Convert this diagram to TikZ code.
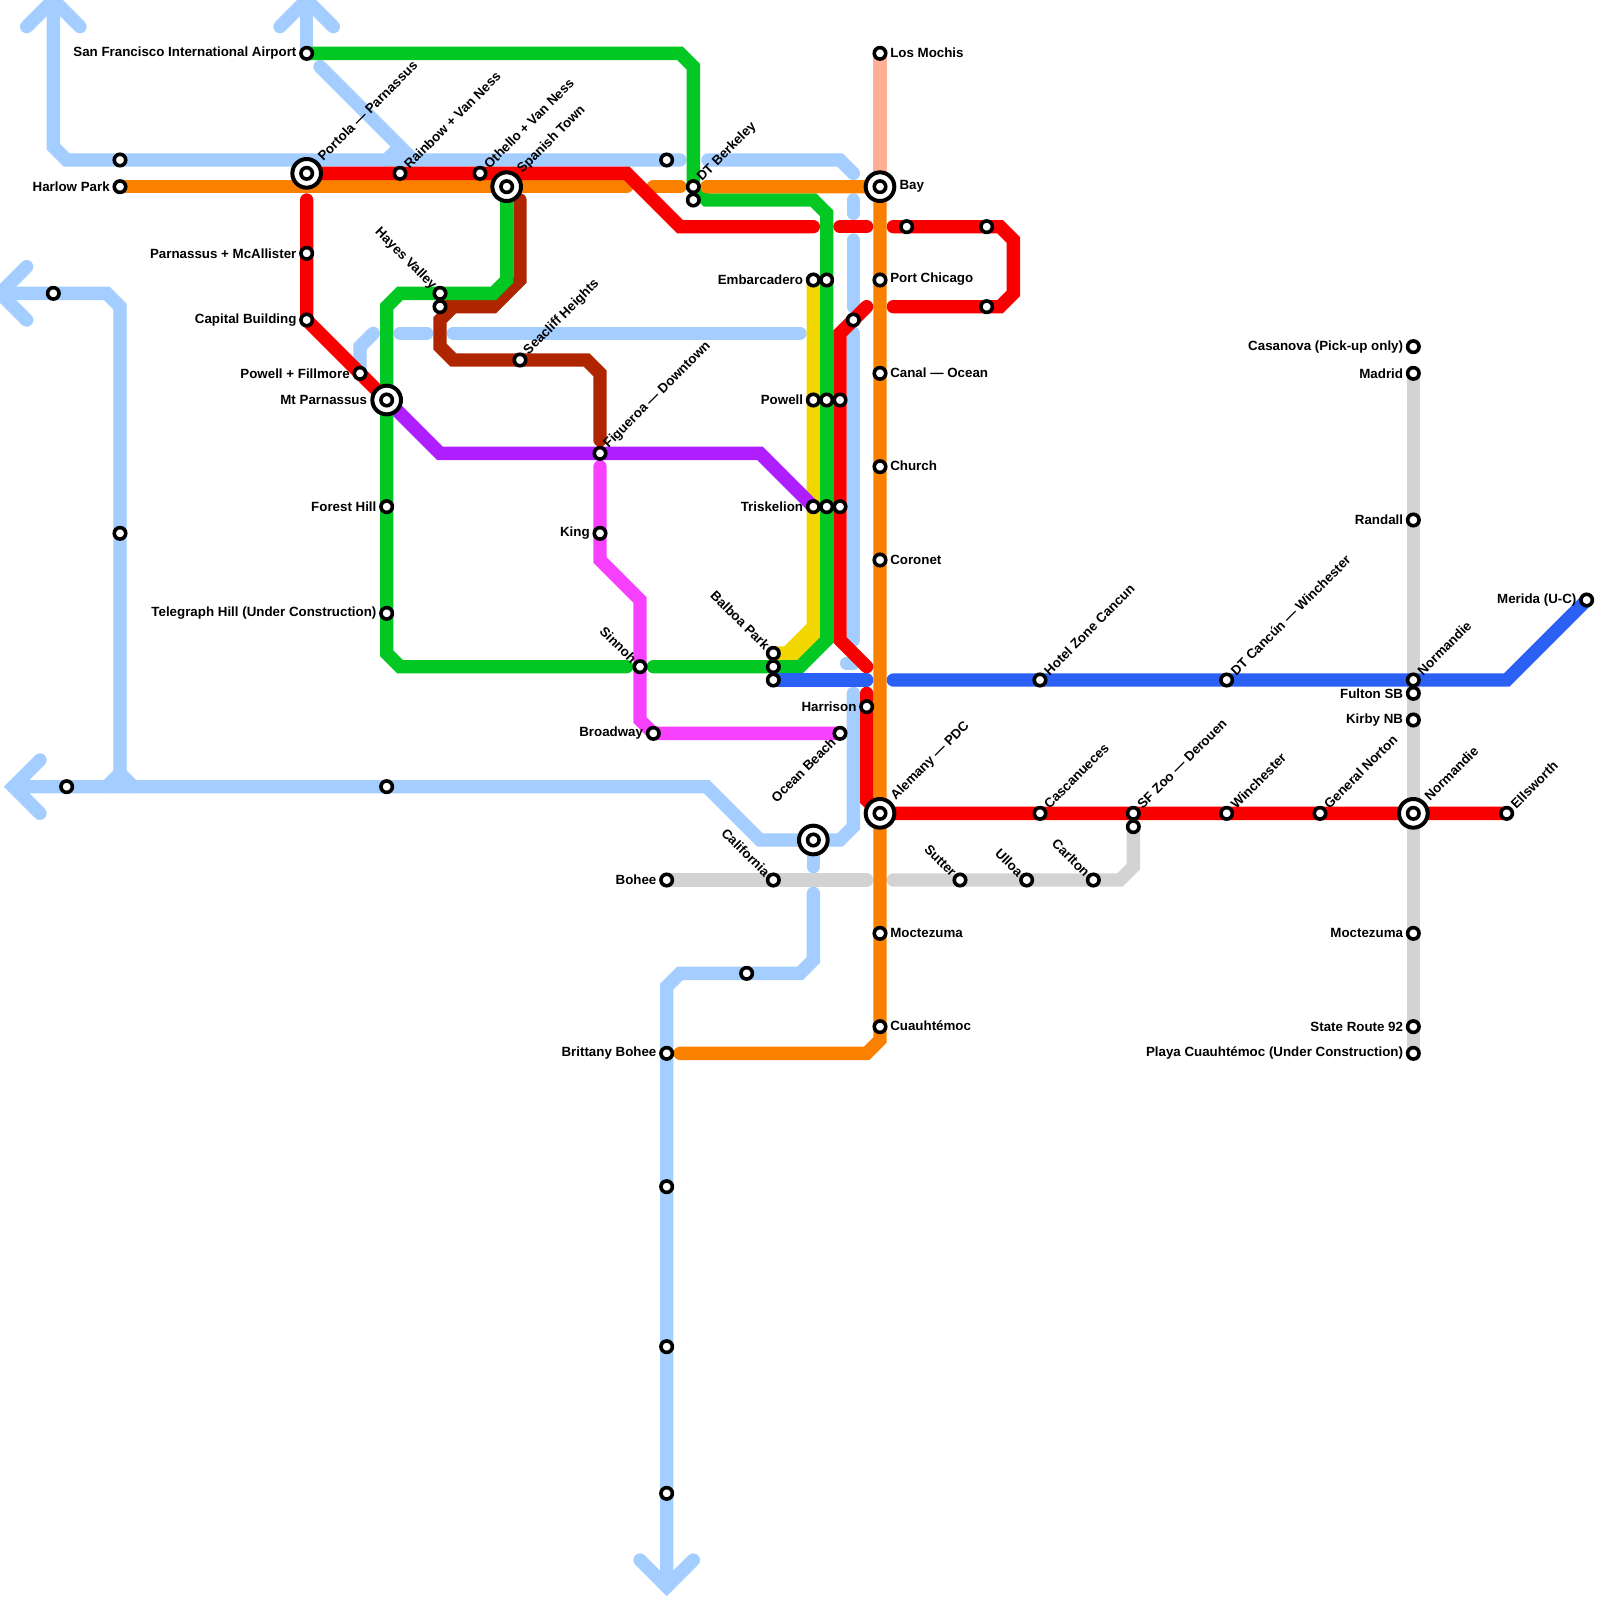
\documentclass[tikz,border=0pt]{standalone}
\usepackage{fontspec}
\setmainfont{Liberation Sans}
\usepackage{xcolor}
\usepackage{tikz}
\usetikzlibrary{calc}
\definecolor{skyline}{HTML}{A3CEFF}
\definecolor{redline}{HTML}{F80000}
\definecolor{orangeline}{HTML}{FA8100}
\definecolor{greenline}{HTML}{03C823}
\definecolor{purpleline}{HTML}{AE1EFF}
\definecolor{pinkline}{HTML}{F840FF}
\definecolor{yellowline}{HTML}{F2D600}
\definecolor{brownline}{HTML}{AE2500}
\definecolor{blueline}{HTML}{2B60F5}
\definecolor{greyline}{HTML}{D3D3D3}
\definecolor{salmonline}{HTML}{FFAF94}
\pgfdeclarelayer{lines}
\pgfsetlayers{lines,main}

\begin{document}
\begin{tikzpicture}[
	x=10pt, y=-10pt,
	ln/.style={line width=10pt, line cap=round, miter limit=4},
	stn/.style={circle, draw=black, fill=white, line width=2.7pt, minimum size=8.6pt, inner sep=0pt, outer sep=0pt},
	hub/.style={circle, draw=black, fill=white, line width=3pt, minimum size=21.5pt, inner sep=0pt, outer sep=0pt},
	lab/.style={font=\bfseries\fontsize{10}{12}\selectfont, inner sep=0pt},
	tl/.style={lab, anchor=east, xshift=-7.5pt},
	tr/.style={lab, anchor=west, xshift=7.5pt, yshift=0.4pt},
	tu/.style={lab, rotate=45, anchor=west, xshift=7pt, yshift=0.5pt},
	tb/.style={lab, rotate=45, anchor=west, xshift=15pt, yshift=1pt},
	td/.style={lab, rotate=-45, anchor=east, xshift=-6pt},
	te/.style={lab, rotate=45, anchor=east, xshift=-7pt}
	]
	\useasboundingbox (0,0) rectangle (120,120);
	\clip (0,0) rectangle (120,120);
	% hubs
	\foreach \id/\x/\y in {portola/23/13, spanish/38/14, mtparn/29/30, bay/66/14, alemany/66/61, oceanhub/61/63, normhub/106/61}{
		\node[hub] (\id) at (\x,\y) {};
		\node[stn] (\id-in) at (\x,\y) {};
	}
	% stations without text
	\foreach \id/\x/\y in {a1/9/12, a2/4/22, a3/5/59, a4/9/40, a5/29/59, a6/50/12, a7/52/15, a8/68/17, a9/74/17, a10/74/23, a11/64/24, a12/62/21, a13/62/30, a14/63/30, a15/62/38, a16/63/38, a17/58/50, a18/58/51, a19/56/73, a20/50/89, a21/50/101, a22/50/112, a23/85/62, a24/33/23}{
		\node[stn] (\id) at (\x,\y) {};
	}
	% text to the left
	\foreach \id/\x/\y/\lab in {sfo/23/4/San Francisco International Airport, harlow/9/14/Harlow Park, mcall/23/19/Parnassus + McAllister, capital/23/24/Capital Building, fillmore/27/28/Powell + Fillmore, king/45/40/King, forest/29/38/Forest Hill, telegraph/29/46/Telegraph Hill (Under Construction), broadway/49/55/Broadway, embarc/61/21/Embarcadero, powell/61/30/Powell, triskelion/61/38/Triskelion, harrison/65/53/Harrison, bohee/50/66/Bohee, brittany/50/79/Brittany Bohee, casanova/106/26/Casanova (Pick-up only), madrid/106/28/Madrid, randall/106/39/Randall, fulton/106/52/Fulton SB, kirby/106/54/Kirby NB, moctezb/106/70/Moctezuma, route92/106/77/State Route 92, playa/106/79/Playa Cuauhtémoc (Under Construction), merida/119/45/Merida (U-C)}{
		\node[stn] (\id) at (\x,\y) {};
		\node[tl] (\id-t) at (\id) {\lab};
	}
	% text to the right
	\foreach \id/\x/\y/\lab in {mochis/66/4/Los Mochis, chicago/66/21/Port Chicago, canal/66/28/Canal — Ocean, church/66/35/Church, coronet/66/42/Coronet, moctez/66/70/Moctezuma, cuauh/66/77/Cuauhtémoc}{
		\node[stn] (\id) at (\x,\y) {};
		\node[tr] (\id-t) at (\id) {\lab};
	}
	% text going up
	\foreach \id/\x/\y/\lab in {rainbow/30/13/Rainbow + Van Ness, othello/36/13/Othello + Van Ness, seacliff/39/27/Seacliff Heights, figueroa/45/34/Figueroa — Downtown, berkeley/52/14/DT Berkeley, zone/78/51/Hotel Zone Cancun, dtcancun/92/51/DT Cancún — Winchester, normandie/106/51/Normandie, cascan/78/61/Cascanueces, sfzoo/85/61/SF Zoo — Derouen, winch/92/61/Winchester, norton/99/61/General Norton, ellsworth/113/61/Ellsworth}{
		\node[stn] (\id) at (\x,\y) {};
		\node[tu] (\id-t) at (\id) {\lab};
	}
	% text going down into the station
	\foreach \id/\x/\y/\lab in {hayes/33/22/Hayes Valley, sinnoh/48/50/Sinnoh, balboa/58/49/Balboa Park, california/58/66/California, sutter/72/66/Sutter, ulloa/77/66/Ulloa, carlton/82/66/Carlton}{
		\node[stn] (\id) at (\x,\y) {};
		\node[td] (\id-t) at (\id) {\lab};
	}
	\node[stn] (ocean) at (63,55) {};
	\node[te] (ocean-t) at (ocean) {Ocean Beach};
	\node[tb] (portola-t) at (portola) {Portola — Parnassus};
	\node[tb] (spanish-t) at (spanish) {Spanish Town};
	\node[tb] (alemany-t) at (alemany) {Alemany — PDC};
	\node[tb] (normhub-t) at (normhub) {Normandie};
	\node[tl, xshift=-7pt] (mtparn-t) at (mtparn) {Mt Parnassus};
	\node[tr, xshift=7pt] (bay-t) at (bay) {Bay};

	\begin{pgfonlayer}{lines}
		\draw[ln, skyline] (2,2) -- (4,0) -- (6,2);
		\draw[ln, skyline] (4,0) -- (4,11) -- (5,12) -- (51,12);
		\draw[ln, skyline] (21,2) -- (23,0) -- (25,2);
		\draw[ln, skyline] (23,0) -- (sfo.center);
		\draw[ln, skyline] (24,5) -- (31,12);
		\draw[ln, skyline] (30,11) -- (29,12);
		\draw[ln, skyline] (53.1,12) -- (63,12) -- (64,13);
		\draw[ln, skyline] (64,15) -- (64,16);
		\draw[ln, skyline] (64,18) -- (64,23);
		\draw[ln, skyline] (64,25) -- (64,48);
		\draw[ln, skyline] (64,49.75) -- (63.5,49.75);
		\draw[ln, skyline] (64,52) -- (64,62) -- (63,63) -- (57,63) -- (53,59) -- (1,59);
		\draw[ln, skyline] (3,57) -- (1,59) -- (3,61);
		\draw[ln, skyline] (2,20) -- (0,22) -- (2,24);
		\draw[ln, skyline] (0,22) -- (8,22) -- (9,23) -- (9,58) -- (8,59);
		\draw[ln, skyline] (9,58) -- (10,59);
		\draw[ln, skyline] (fillmore.center) -- (27,26) -- (28,25);
		\draw[ln, skyline] (30,25) -- (32,25);
		\draw[ln, skyline] (34,25) -- (60,25);
		\draw[ln, skyline] (oceanhub.center) -- (61,65);
		\draw[ln, skyline] (61,67) -- (61,72) -- (60,73) -- (51,73) -- (50,74) -- (50,119);
		\draw[ln, skyline] (48,117) -- (50,119) -- (52,117);
		\draw[ln, greyline] (bohee.center) -- (65,66);
		\draw[ln, greyline] (67,66) -- (84,66) -- (85,65) -- (a23.center);
		\draw[ln, greyline] (madrid.center) -- (playa.center);
		\draw[ln, salmonline] (mochis.center) -- (bay.center);
		\draw[ln, yellowline] (embarc.center) -- (61,47) -- (59,49) -- (balboa.center);
		\draw[ln, yellowline] (61,47) -- (61,48) -- (60,49) -- (balboa.center);
		\draw[ln, pinkline] (45,35) -- (45,42) -- (48,45) -- (48,54) -- (49,55) -- (ocean.center);
		\draw[ln, purpleline] (mtparn.center) -- (33,34) -- (57,34) -- (triskelion.center);
		\draw[ln, brownline] (39,15) -- (39,21) -- (37,23) -- (a24.center);
		\draw[ln, brownline] (34,23) -- (33,24) -- (33,26) -- (34,27) -- (44,27) -- (45,28) -- (45,33);
		\draw[ln, greenline] (sfo.center) -- (51,4) -- (52,5) -- (52,14) -- (53,15) -- (61,15) -- (62,16) -- (62,48) -- (60,50) -- (49,50);
		\draw[ln, greenline] (47,50) -- (30,50) -- (29,49) -- (29,23) -- (30,22) -- (37,22) -- (38,21) -- (spanish.center);
		\draw[ln, orangeline] (harlow.center) -- (47,14);
		\draw[ln, orangeline] (49,14) -- (51,14);
		\draw[ln, orangeline] (53,14) -- (bay.center) -- (66,78) -- (65,79) -- (51,79);
		\draw[ln, redline] (portola.center) -- (47,13) -- (51,17) -- (61,17);
		\draw[ln, redline] (63,17) -- (65,17);
		\draw[ln, redline] (67,17) -- (75,17) -- (76,18) -- (76,22) -- (75,23) -- (67,23);
		\draw[ln, redline] (65,23) -- (63,25) -- (63,48) -- (65,50);
		\draw[ln, redline] (65,52) -- (65,60) -- (alemany.center) -- (ellsworth.center);
		\draw[ln, redline] (23,15) -- (capital.center) -- (mtparn.center);
		\draw[ln, blueline] (a18.center) -- (65,51);
		\draw[ln, blueline] (67,51) -- (113,51) -- (merida.center);
	\end{pgfonlayer}
\end{tikzpicture}
\end{document}
